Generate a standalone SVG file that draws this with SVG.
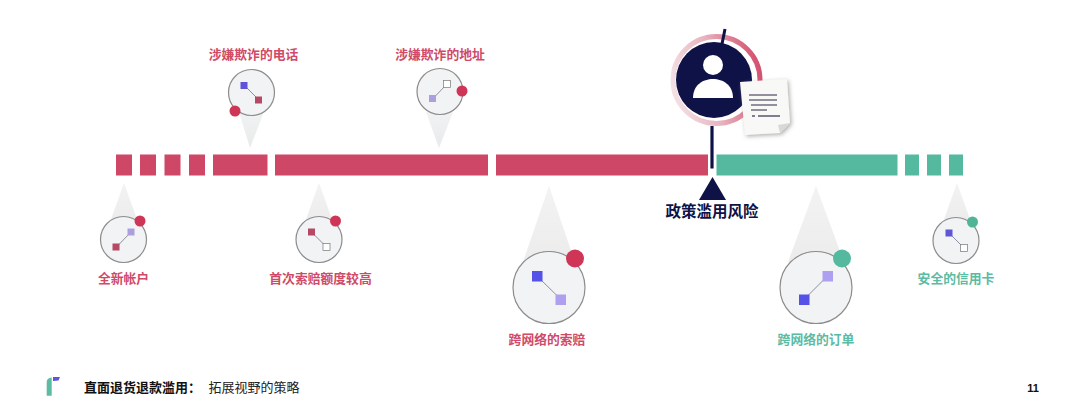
<svg xmlns="http://www.w3.org/2000/svg" width="1080" height="418" viewBox="0 0 1080 418">
<style>
text{font-family:"Noto Sans CJK SC","Liberation Sans",sans-serif}
.lab{font-size:12.8px;font-weight:700;text-anchor:middle}
.r{fill:#cf4766}.g{fill:#55b9a0}
.rt{fill:#d04a68}.gt{fill:#5cbba3}
.disc{fill:#f2f3f5;stroke:#8c8c8c;stroke-width:1.200}
.ln{stroke:#8d8f9f;stroke-width:1}
.cone{fill:url(#cone)}
.cone2{fill:url(#cone2)}
</style>
<defs>
<linearGradient id="cone" x1="0" y1="0" x2="0" y2="1"><stop offset="0" stop-color="#f1f2f2"/><stop offset="1" stop-color="#e9eaeb"/></linearGradient>
<linearGradient id="cone2" x1="0" y1="0" x2="0" y2="1"><stop offset="0" stop-color="#f3f3f4"/><stop offset="1" stop-color="#ececed"/></linearGradient>
<linearGradient id="ring" x1="0" y1="0.6" x2="1" y2="0.4"><stop offset="0" stop-color="#f3e0e4"/><stop offset="0.45" stop-color="#e8b4c0"/><stop offset="1" stop-color="#d5516f"/></linearGradient>
<filter id="sh" x="-20%" y="-20%" width="150%" height="150%"><feDropShadow dx="1.500" dy="1.500" stdDeviation="2" flood-color="#777" flood-opacity=".6"/></filter>
</defs>
<rect width="1080" height="418" fill="#fff"/>
<g id="bar">
<rect class="r" x="116" y="154.500" width="16" height="21"/>
<rect class="r" x="140" y="154.500" width="16" height="21"/>
<rect class="r" x="164.500" y="154.500" width="16" height="21"/>
<rect class="r" x="189" y="154.500" width="16" height="21"/>
<rect class="r" x="213" y="154.500" width="54.500" height="21"/>
<rect class="r" x="275" y="154.500" width="213" height="21"/>
<rect class="r" x="496" y="154.500" width="212" height="21"/>
<rect class="g" x="716.500" y="154.500" width="181" height="21"/>
<rect class="g" x="905" y="154.500" width="14" height="21"/>
<rect class="g" x="927" y="154.500" width="14" height="21"/>
<rect class="g" x="949" y="154.500" width="14" height="21"/>
</g>
<g id="connectors">
<path class="cone" d="M250 148L239 112H264Z"/>
<path class="cone" d="M439 148L426 112H453Z"/>
<path class="cone2" d="M124 183L110 222H138Z"/>
<path class="cone2" d="M319 183L305 222H333Z"/>
<path class="cone2" d="M549 186L523 262H575Z"/>
<path class="cone2" d="M816 186L788 262H844Z"/>
<path class="cone2" d="M957 183L943 222H971Z"/>
</g>
<g id="node-phone">
<text class="lab rt" x="253.500" y="58.500">涉嫌欺诈的电话</text>
<circle class="disc" cx="251.500" cy="92.500" r="23"/>
<path class="ln" d="M244 85L259 100"/>
<rect x="240.500" y="82" width="7" height="7" fill="#5f55d6"/>
<rect x="255" y="96.500" width="7" height="7" fill="#b54a66"/>
<circle cx="235" cy="111" r="5.500" fill="#cf3556"/>
</g>
<g id="node-address">
<text class="lab rt" x="440" y="58.500">涉嫌欺诈的地址</text>
<circle class="disc" cx="440" cy="91.500" r="23"/>
<path class="ln" d="M433 98.500L447 84"/>
<rect x="429" y="95" width="7" height="7" fill="#ab9fe0"/>
<rect x="443.500" y="80.500" width="7" height="7" fill="#fff" stroke="#777" stroke-width=".7"/>
<circle cx="462" cy="91" r="5.500" fill="#cf3556"/>
</g>
<g id="node-new">
<circle class="disc" cx="123.500" cy="239.500" r="23"/>
<path class="ln" d="M116.500 247L131 232"/>
<rect x="112.500" y="243.500" width="7" height="7" fill="#b54a66"/>
<rect x="127.500" y="228.500" width="7" height="7" fill="#ab9fe0"/>
<circle cx="140" cy="221" r="5.500" fill="#cf3556"/>
<text class="lab rt" x="123.500" y="283">全新帐户</text>
</g>
<g id="node-first">
<circle class="disc" cx="319" cy="239.500" r="23"/>
<path class="ln" d="M311.500 232L326.500 247"/>
<rect x="308" y="228.500" width="7" height="7" fill="#b54a66"/>
<rect x="323" y="243.500" width="7" height="7" fill="#fff" stroke="#777" stroke-width=".7"/>
<circle cx="335.500" cy="221" r="5.500" fill="#cf3556"/>
<text class="lab rt" x="320.500" y="283">首次索赔额度较高</text>
</g>
<g id="node-claim">
<circle class="disc" cx="549" cy="287.500" r="36"/>
<path class="ln" d="M537 276L561 299.500"/>
<rect x="532" y="271" width="10.500" height="10.500" fill="#5552e8"/>
<rect x="555.500" y="294.500" width="10.500" height="10.500" fill="#ae9ff0"/>
<circle cx="575" cy="258.500" r="9" fill="#cf3556"/>
<text class="lab rt" x="547" y="344">跨网络的索赔</text>
</g>
<g id="node-order">
<circle class="disc" cx="816" cy="287.500" r="36"/>
<path class="ln" d="M804 299.500L827.500 276"/>
<rect x="799" y="294.500" width="10.500" height="10.500" fill="#5552e8"/>
<rect x="822.500" y="271" width="10.500" height="10.500" fill="#ae9ff0"/>
<circle cx="842" cy="258.500" r="9" fill="#55b9a0"/>
<text class="lab gt" x="816" y="344">跨网络的订单</text>
</g>
<g id="node-card">
<circle class="disc" cx="956" cy="240.500" r="23"/>
<path class="ln" d="M949 233L964 248"/>
<rect x="945.500" y="229.500" width="7" height="7" fill="#5f55d6"/>
<rect x="960.500" y="244.500" width="7" height="7" fill="#fff" stroke="#777" stroke-width=".7"/>
<circle cx="972.500" cy="222" r="5.500" fill="#4fb596"/>
<text class="lab gt" x="956" y="283">安全的信用卡</text>
</g>
<g id="node-risk">
<circle cx="716.500" cy="80" r="43.500" fill="none" stroke="url(#ring)" stroke-width="5"/>
<circle cx="714" cy="80" r="38" fill="#0e1247"/>
<path d="M722 44L725 29" stroke="#0e1247" stroke-width="3"/>
<circle cx="713" cy="65" r="10" fill="#fff"/>
<path d="M693 98C693 85 703 79 713 79S733 85 733 98Z" fill="#fff"/>
<path d="M712 126V168.500" stroke="#0e1247" stroke-width="3.200"/>
<path d="M712.500 177L726 200H699Z" fill="#0e1247"/>
<g filter="url(#sh)">
<path d="M740 82L787 79L790 123L780 133L745 135Z" fill="#f8f8f6"/>
<path d="M790 123L778 125L780 133Z" fill="#d8d8d8"/>
</g>
<path d="M749 95H777M749 100H777M751 105H777M751 110H767" stroke="#6d6f80" stroke-width="1.300"/>
<path d="M752 116H755M758 116H780" stroke="#55576b" stroke-width="1.300"/>
<text x="712" y="216.500" font-size="15.500" font-weight="700" fill="#0e1247" text-anchor="middle">政策滥用风险</text>
</g>
<g id="footer">
<path d="M46.700 395.700V382Q46.700 378 51.700 377.500V395.700Z" fill="#5cbba3"/>
<path d="M53 377H60L58.500 380.500L53 381Z" fill="#5f55d6"/>
<text x="84" y="392" font-size="13px" font-weight="700" fill="#111">直面退货退款滥用：</text>
<text x="208.500" y="392" font-size="13px" fill="#222">拓展视野的策略</text>
<text x="1033" y="392" font-size="11px" font-weight="700" fill="#111" text-anchor="middle" style="font-family:'Liberation Sans',sans-serif">11</text>
</g>
</svg>
